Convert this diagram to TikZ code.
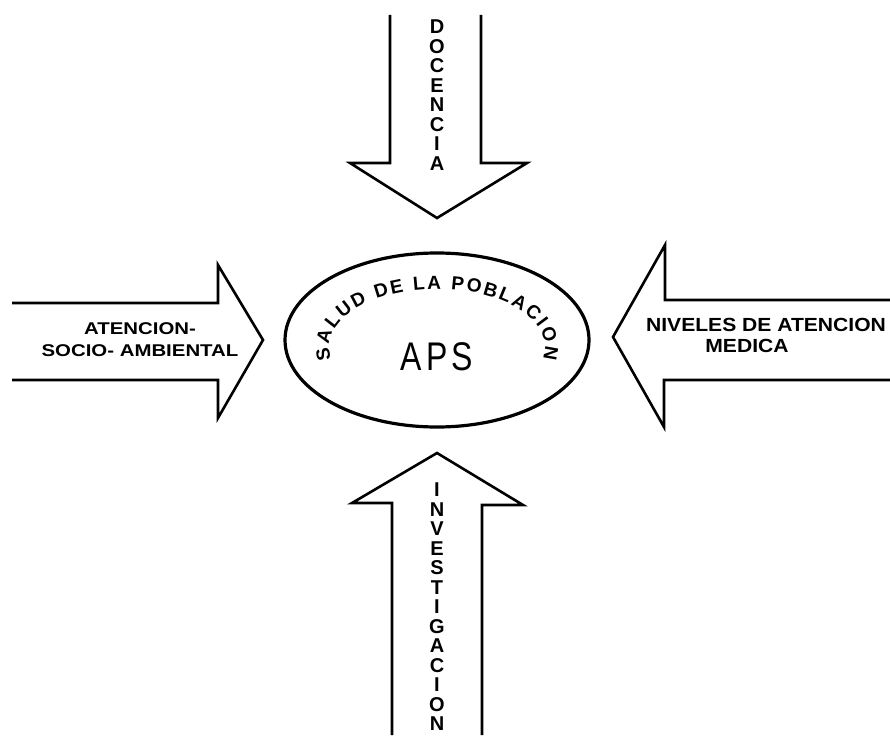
\documentclass[tikz,border=0pt]{standalone}
\usepackage{fontspec}
\setmainfont{Liberation Sans}
\usetikzlibrary{decorations.text}

\tikzset{
  flecha/.style={line width=2.6pt, line join=miter},
  pila/.style={inner sep=0pt, align=center, anchor=north,
    font=\fontsize{20}{19.5}\selectfont\bfseries},
  rotulo/.style={inner sep=0pt, align=center,
    font=\fontsize{17}{22.5}\selectfont\bfseries}
}

\begin{document}
\begin{tikzpicture}[x=1pt, y=-1pt]
  \useasboundingbox (0,0) rectangle (890,735);
  % las cuatro flechas
  \draw[flecha] (390,15) -- (390,163) -- (350,163) -- (437,218) -- (527,163) -- (481,163) -- (481,15);
  \draw[flecha] (12,303) -- (218,303) -- (218,265) -- (263,340) -- (218,418) -- (218,380) -- (12,380);
  \draw[flecha] (890,300) -- (665,300) -- (665,245) -- (613,337) -- (664,427) -- (664,380) -- (890,380);
  \draw[flecha] (392,735) -- (392,503) -- (352,503) -- (437,453) -- (523,505) -- (482,505) -- (482,735);
  \node[pila] (docencia) at (437,20) {D\\O\\C\\E\\N\\C\\I\\A};
  \node[pila] (investigacion) at (437,483) {I\\N\\V\\E\\S\\T\\I\\G\\A\\C\\I\\O\\N};
  \node[rotulo, xscale=1.2] (atencion) at (140,339.5) {ATENCION-\\SOCIO- AMBIENTAL};
  \node[rotulo, xscale=1.11, font=\fontsize{19}{22}\selectfont\bfseries] (niveles) at (766,325) {NIVELES DE ATENCION};
  \node[rotulo, xscale=1.11, font=\fontsize{19}{22}\selectfont\bfseries] (medica) at (747,346) {MEDICA};
  % elipse central
  \draw[line width=3.2pt] (437,340) ellipse [x radius=152, y radius=87];
  \path[decorate, decoration={text along path, text align=fit to path,
      text={|\fontsize{19}{19}\selectfont\bfseries|SALUD DE LA POBLACION}}]
    (437,347) ++(168:108 and 58) arc[start angle=168, end angle=372, x radius=108, y radius=58];
  \node[inner sep=0pt, xscale=0.8, font=\fontsize{40}{40}\selectfont] (aps) at (437,357) {A\hspace{5pt}P\hspace{5pt}S};
\end{tikzpicture}
\end{document}
